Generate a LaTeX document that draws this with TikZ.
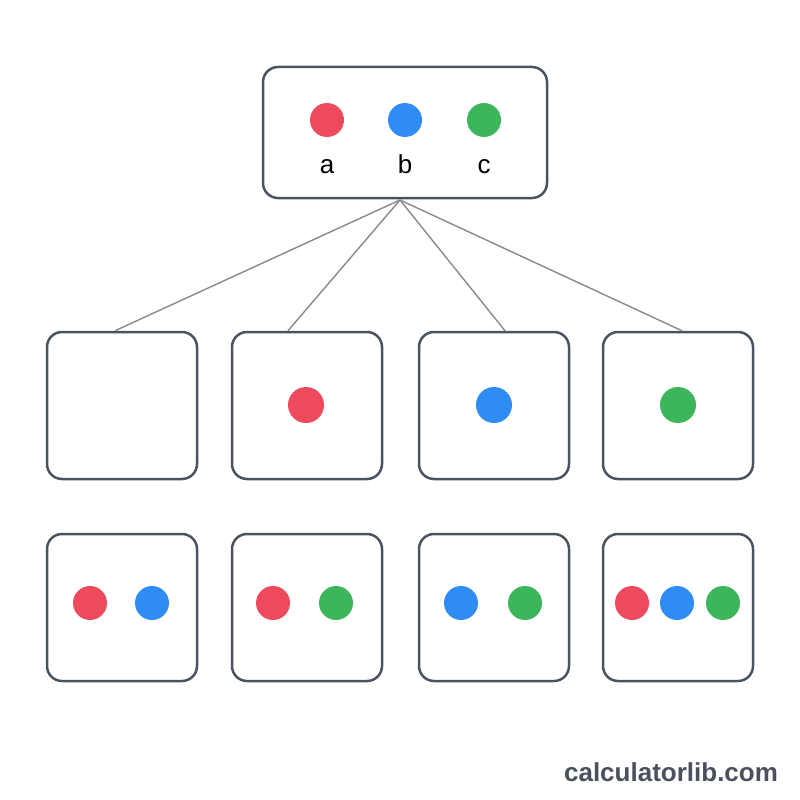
\documentclass[tikz,border=0pt]{standalone}
\usepackage{fontspec}
\setmainfont{Liberation Sans}
\definecolor{boxc}{HTML}{4B5361}
\definecolor{linec}{HTML}{8A8A8A}
\definecolor{dred}{HTML}{EE4A5D}
\definecolor{dblue}{HTML}{2E8CF2}
\definecolor{dgreen}{HTML}{3DB55B}
\definecolor{wm}{HTML}{4A505C}
\begin{document}
\begin{tikzpicture}[x=1pt,y=-1pt,
  boxn/.style={draw=boxc,line width=2.5pt,rounded corners=15pt,fill=white,inner sep=0pt},
  sq/.style={boxn,minimum width=150pt,minimum height=147pt},
  dot/.style={circle,inner sep=0pt,minimum size=#1},
  dot/.default=34pt,
  rd/.style={dot,fill=dred},
  bl/.style={dot,fill=dblue},
  gr/.style={dot,fill=dgreen},
  conn/.style={draw=linec,line width=1.4pt},
  lbl/.style={font=\fontsize{26pt}{26pt}\selectfont,inner sep=0pt,anchor=base}]
\useasboundingbox[fill=white] (0,0) rectangle (800,800);
% top
\node[boxn,minimum width=284pt,minimum height=131pt] (top) at (405,132.5) {};
\node[rd] (ta) at (327,120) {};
\node[bl] (tb) at (405,120) {};
\node[gr] (tc) at (484,120) {};
\node[lbl] (la) at (327,173) {a};
\node[lbl] (lb) at (405,173) {b};
\node[lbl] (lc) at (484,173) {c};
% row 2
\node[sq] (r1) at (122,405.5) {};
\node[sq] (r2) at (307,405.5) {};
\node[sq] (r3) at (494,405.5) {};
\node[sq] (r4) at (678,405.5) {};
\node[rd,minimum size=36pt] (r2a) at (306,405) {};
\node[bl,minimum size=36pt] (r3b) at (494,405) {};
\node[gr,minimum size=36pt] (r4c) at (678,405) {};
% connectors
\coordinate (src) at (400,200);
\draw[conn] (src) -- ([xshift=-7pt]r1.north);
\draw[conn] (src) -- ([xshift=-19pt]r2.north);
\draw[conn] (src) -- ([xshift=11pt]r3.north);
\draw[conn] (src) -- ([xshift=4pt]r4.north);
% row 3
\node[sq] (s1) at (122,607.5) {};
\node[sq] (s2) at (307,607.5) {};
\node[sq] (s3) at (494,607.5) {};
\node[sq] (s4) at (678,607.5) {};
\node[rd] (s1a) at (90,603) {};
\node[bl] (s1b) at (152,603) {};
\node[rd] (s2a) at (273,603) {};
\node[gr] (s2c) at (336,603) {};
\node[bl] (s3b) at (461,603) {};
\node[gr] (s3c) at (525,603) {};
\node[rd] (s4a) at (632,603) {};
\node[bl] (s4b) at (677,603) {};
\node[gr] (s4c) at (723,603) {};
% watermark
\node[font=\fontsize{26pt}{26pt}\selectfont\bfseries,text=wm,inner sep=0pt,anchor=base] (wmk) at (671,781) {calculatorlib.com};
\end{tikzpicture}
\end{document}
